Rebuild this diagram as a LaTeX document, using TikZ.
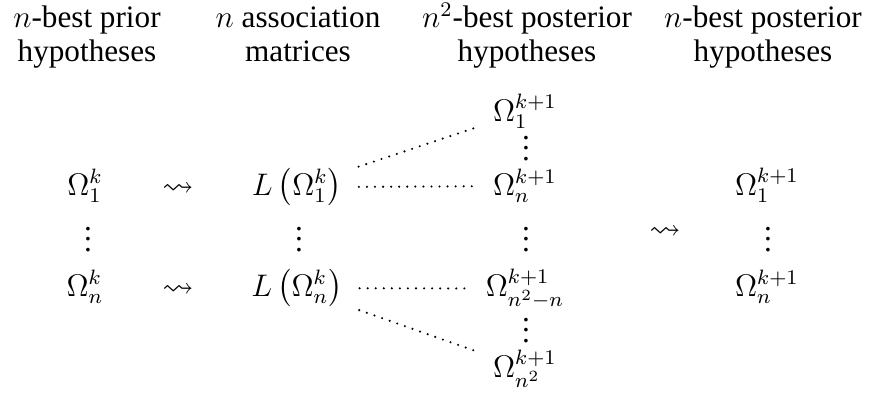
\documentclass[tikz,border=0pt,12pt]{standalone}
\usepackage{amsmath}
\usepackage{amssymb}
\usepackage[no-math]{fontspec}
\setmainfont{Liberation Serif}
\usetikzlibrary{positioning}
\tikzset{
  hyp/.style={anchor=base, inner sep=4pt},
  head/.style={anchor=base, align=center, inner sep=0pt,
    font=\fontsize{12}{12.7}\selectfont},
  lto/.style={anchor=base, inner sep=2pt},
  assoc/.style={line width=0.9pt, dash pattern=on 0pt off 3.1pt,
    line cap=round, shorten <=2.3pt, shorten >=2pt}
}
\begin{document}
\begin{tikzpicture}[x=0.3846pt, y=-0.3846pt]
  \useasboundingbox (0,0) rectangle (872,394);
  % column headers
  \node[head] (hp) at (87,61) {$n$-best prior\\hypotheses};
  \node[head] (hl) at (298,61) {$n$ association\\matrices};
  \node[head] (hq) at (527,61) {$n^2$-best posterior\\hypotheses};
  \node[head] (hr) at (763,61) {$n$-best posterior\\hypotheses};
  % prior hypotheses
  \node[hyp] (p1) at (85,195) {$\Omega_1^k$};
  \node[hyp] (pd) at (88,251) {$\vdots$};
  \node[hyp] (pn) at (85,296) {$\Omega_n^k$};
  \node[lto] (a1) at (178,195) {$\rightsquigarrow$};
  \node[lto] (an) at (178,296) {$\rightsquigarrow$};
  % association matrices
  \node[hyp] (l1) at (297,195) {$L\left(\Omega_1^k\right)$};
  \node[hyp] (ld) at (299,251) {$\vdots$};
  \node[hyp] (ln) at (297,296) {$L\left(\Omega_n^k\right)$};
  % n^2 posterior hypotheses
  \node[hyp] (q1) at (525,121) {$\Omega_1^{k+1}$};
  \node[hyp] (qd1) at (526,160) {$\vdots$};
  \node[hyp] (qn) at (525,195) {$\Omega_n^{k+1}$};
  \node[hyp] (qd) at (526,251) {$\vdots$};
  \node[hyp] (qm) at (525,296) {$\Omega_{n^2-n}^{k+1}$};
  \node[hyp] (qd2) at (526,342) {$\vdots$};
  \node[hyp] (qz) at (525,377) {$\Omega_{n^2}^{k+1}$};
  % n-best posterior hypotheses
  \node[lto] (ar) at (665,238) {$\rightsquigarrow$};
  \node[hyp] (r1) at (767,195) {$\Omega_1^{k+1}$};
  \node[hyp] (rd) at (768,251) {$\vdots$};
  \node[hyp] (rn) at (767,296) {$\Omega_n^{k+1}$};
  \foreach \p/\q in {l1/q1,l1/qn,ln/qm,ln/qz} \draw[assoc] (\p) -- (\q);
\end{tikzpicture}
\end{document}
